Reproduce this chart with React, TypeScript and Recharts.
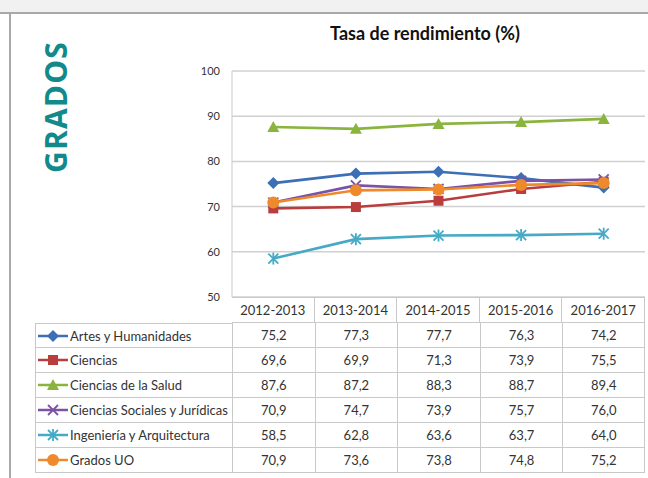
import React from "react"
import { LineChart, Line, XAxis, YAxis, CartesianGrid } from "recharts"

const years = ["2012-2013", "2013-2014", "2014-2015", "2015-2016", "2016-2017"]
const seriesNames = [
  "Artes y Humanidades",
  "Ciencias",
  "Ciencias de la Salud",
  "Ciencias Sociales y Jurídicas",
  "Ingeniería y Arquitectura",
  "Grados UO",
]
const artes = [75.2, 77.3, 77.7, 76.3, 74.2]
const ciencias = [69.6, 69.9, 71.3, 73.9, 75.5]
const salud = [87.6, 87.2, 88.3, 88.7, 89.4]
const sociales = [70.9, 74.7, 73.9, 75.7, 76.0]
const ingenieria = [58.5, 62.8, 63.6, 63.7, 64.0]
const gradosUO = [70.9, 73.6, 73.8, 74.8, 75.2]
const yTicks = [50, 60, 70, 80, 90, 100]

const seriesValues = [artes, ciencias, salud, sociales, ingenieria, gradosUO]
const colors = ["#3c6fb6", "#b93d3d", "#8ab43e", "#7a52a6", "#46aac6", "#ef8a2c"]
const shapes = ["diamond", "square", "triangle", "x", "star", "circle"]

const data = years.map((year, i) => {
  const row: Record<string, string | number> = { year }
  seriesValues.forEach((vals, s) => {
    row["s" + s] = vals[i]
  })
  return row
})

const fmt = (v: number) => v.toFixed(1).replace(".", ",")

function Marker({ cx, cy, shape, color }: { cx: number; cy: number; shape: string; color: string }) {
  if (shape === "diamond") {
    return <polygon points={`${cx},${cy - 6} ${cx + 6},${cy} ${cx},${cy + 6} ${cx - 6},${cy}`} fill={color} />
  }
  if (shape === "square") {
    return <rect x={cx - 5} y={cy - 5} width={10} height={10} fill={color} />
  }
  if (shape === "triangle") {
    return <polygon points={`${cx},${cy - 6} ${cx + 6},${cy + 5} ${cx - 6},${cy + 5}`} fill={color} />
  }
  if (shape === "x") {
    return (
      <g stroke={color} strokeWidth={1.8}>
        <line x1={cx - 5} y1={cy - 5} x2={cx + 5} y2={cy + 5} />
        <line x1={cx - 5} y1={cy + 5} x2={cx + 5} y2={cy - 5} />
      </g>
    )
  }
  if (shape === "star") {
    return (
      <g stroke={color} strokeWidth={1.8}>
        <line x1={cx - 5} y1={cy - 5} x2={cx + 5} y2={cy + 5} />
        <line x1={cx - 5} y1={cy + 5} x2={cx + 5} y2={cy - 5} />
        <line x1={cx} y1={cy - 6} x2={cx} y2={cy + 6} />
      </g>
    )
  }
  return <circle cx={cx} cy={cy} r={6} fill={color} />
}

const font = "Lato, 'Liberation Sans', sans-serif"
const border = "1px solid #c9c9c9"

const plotLeft = 232
const plotRight = 645
const plotTop = 71
const plotBottom = 297
const colW = (plotRight - plotLeft) / years.length
const rowH = 25
const headerH = 26
const legendLeft = 35

export default function App() {
  return (
    <div style={{ position: "relative", width: 648, height: 478, background: "#ffffff", overflow: "hidden", fontFamily: font }}>
      <style>{`html, body { margin: 0; padding: 0; overflow: hidden; background: #ffffff; }`}</style>
      <div style={{ position: "absolute", left: 0, top: 0, width: 648, height: 12, background: "#f1f1f1" }} />
      <div style={{ position: "absolute", left: 0, top: 12, width: 648, height: 2, background: "#a9a9a9" }} />
      <div style={{ position: "absolute", left: 9, top: 12, width: 2, height: 466, background: "#a9a9a9" }} />

      <div
        style={{
          position: "absolute",
          left: 55,
          top: 107,
          transform: "translate(-50%, -50%) rotate(-90deg)",
          color: "#128a8c",
          fontFamily: "'Open Sans', sans-serif",
          fontWeight: 700,
          fontSize: 30,
          letterSpacing: 1.2,
          whiteSpace: "nowrap",
        }}
      >
        GRADOS
      </div>

      <div style={{ position: "absolute", left: 425, top: 33, transform: "translate(-50%, -50%)", fontWeight: 700, fontSize: 18, color: "#111", whiteSpace: "nowrap" }}>
        Tasa de rendimiento (%)
      </div>

      <div style={{ position: "absolute", left: 0, top: 0, width: 648, height: 478 }}>
        <LineChart
          width={648}
          height={478}
          data={data}
          accessibilityLayer={false}
          margin={{ top: plotTop, right: 648 - plotRight, bottom: 478 - plotBottom, left: plotLeft - 30 }}
        >
          <CartesianGrid vertical={false} stroke="#d0d0d0" strokeWidth={1.5} />
          <XAxis dataKey="year" hide padding={{ left: colW / 2, right: colW / 2 }} />
          <YAxis
            domain={[50, 100]}
            ticks={yTicks}
            width={30}
            interval={0}
            axisLine={{ stroke: "#c9c9c9" }}
            tickLine={false}
            tick={{ fontSize: 11, fill: "#333", fontFamily: font }}
            tickMargin={6}
          />
          {seriesNames.map((name, s) => (
            <Line
              key={name}
              dataKey={"s" + s}
              name={name}
              stroke={colors[s]}
              strokeWidth={2.6}
              isAnimationActive={false}
              dot={(p: any) => <Marker key={name + p.index} cx={p.cx} cy={p.cy} shape={shapes[s]} color={colors[s]} />}
            />
          ))}
        </LineChart>
      </div>

      {years.map((y, i) => (
        <div
          key={y}
          style={{
            position: "absolute",
            left: plotLeft + i * colW,
            top: plotBottom,
            width: colW,
            height: headerH,
            boxSizing: "border-box",
            borderTop: border,
            borderBottom: border,
            borderRight: border,
            display: "flex",
            alignItems: "center",
            justifyContent: "center",
            fontSize: 13,
            color: "#333",
          }}
        >
          {y}
        </div>
      ))}

      {seriesNames.map((name, s) => (
        <React.Fragment key={name}>
          <div
            style={{
              position: "absolute",
              left: legendLeft,
              top: plotBottom + headerH + s * rowH,
              width: plotLeft - legendLeft,
              height: rowH,
              boxSizing: "border-box",
              borderLeft: border,
              borderBottom: border,
              borderTop: s === 0 ? border : "none",
              display: "flex",
              alignItems: "center",
              fontSize: 13,
              color: "#333",
              whiteSpace: "nowrap",
            }}
          >
            <svg width={34} height={14} style={{ flex: "none" }}>
              <line x1={2} y1={7} x2={32} y2={7} stroke={colors[s]} strokeWidth={2.5} />
              <Marker cx={17} cy={7} shape={shapes[s]} color={colors[s]} />
            </svg>
            <span>{name}</span>
          </div>
          {seriesValues[s].map((v, i) => (
            <div
              key={i}
              style={{
                position: "absolute",
                left: plotLeft + i * colW,
                top: plotBottom + headerH + s * rowH,
                width: colW,
                height: rowH,
                boxSizing: "border-box",
                borderLeft: border,
                borderRight: i === years.length - 1 ? border : "none",
                borderBottom: border,
                display: "flex",
                alignItems: "center",
                justifyContent: "center",
                fontSize: 13,
                color: "#333",
              }}
            >
              {fmt(v)}
            </div>
          ))}
        </React.Fragment>
      ))}
    </div>
  )
}
